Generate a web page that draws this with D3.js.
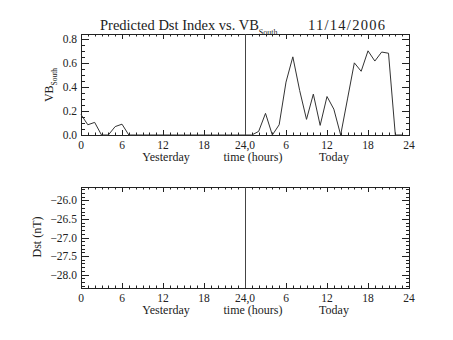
<!DOCTYPE html>
<html><head><meta charset="utf-8">
<script src="https://cdn.jsdelivr.net/npm/d3@7"></script>
<style>
html,body{margin:0;padding:0;background:#fff;}
svg text{font-family:"Liberation Serif","DejaVu Serif",serif;fill:#222;}
</style>
</head><body>
<svg id="chart" width="453" height="340"></svg>
<script>
// ---- data ----
const hours = d3.range(0, 48); // 0..23 yesterday, 24..47 today
const vbSouth = [
  0.17, 0.085, 0.105, 0.0, 0.0, 0.07, 0.09, 0.0, 0.0, 0.0, 0.0, 0.0,
  0.0, 0.0, 0.0, 0.0, 0.0, 0.0, 0.0, 0.0, 0.0, 0.0, 0.0, 0.0,
  0.0, 0.0, 0.03, 0.18, 0.0, 0.085, 0.44, 0.65, 0.37, 0.13, 0.34, 0.08,
  0.32, 0.215, 0.0, 0.30, 0.60, 0.53, 0.70, 0.615, 0.69, 0.68, 0.0, 0.0
];
const xTickValues = [0, 6, 12, 18, 24, 30, 36, 42, 48];
const xTickLabels = ["0", "6", "12", "18", "24,0", "6", "12", "18", "24"];
const vbTicks = [0.0, 0.2, 0.4, 0.6, 0.8];
const dstTicks = [-26.0, -26.5, -27.0, -27.5, -28.0];
const titleMain = "Predicted Dst Index vs. VB";
const titleSub = "South";
const titleDate = "11/14/2006";
const dayLabels = ["Yesterday", "time (hours)", "Today"];

// ---- layout ----
const svg = d3.select("#chart");
const X0 = 81, X1 = 409;
const x = d3.scaleLinear().domain([0, 48]).range([X0, X1]);
const stroke = "#222";

function panel(top, bottom, yDomain, majorTicks, minorStep, fmt) {
  const y = d3.scaleLinear().domain(yDomain).range([bottom, top]);
  const g = svg.append("g");
  const majLen = 5, minLen = 2.5;
  g.append("rect").attr("x", X0 + 0.5).attr("y", top + 0.5)
    .attr("width", X1 - X0).attr("height", bottom - top)
    .attr("fill", "none").attr("stroke", stroke).attr("stroke-width", 1);
  d3.range(0, 49).forEach(h => {
    const len = (h % 6 === 0) ? majLen : minLen;
    const px = Math.round(x(h)) + 0.5;
    g.append("line").attr("x1", px).attr("x2", px)
      .attr("y1", bottom).attr("y2", bottom - len).attr("stroke", stroke);
    g.append("line").attr("x1", px).attr("x2", px)
      .attr("y1", top).attr("y2", top + len).attr("stroke", stroke);
  });
  const lo = Math.min(...yDomain), hi = Math.max(...yDomain);
  const minors = d3.range(Math.ceil(lo / minorStep - 1e-6), Math.floor(hi / minorStep + 1e-6) + 1)
    .map(k => k * minorStep);
  minors.forEach(v => {
    const isMaj = majorTicks.some(m => Math.abs(m - v) < 1e-6);
    const len = isMaj ? majLen * 1.6 : minLen * 1.6;
    const py = Math.round(y(v)) + 0.5;
    g.append("line").attr("x1", X0).attr("x2", X0 + len)
      .attr("y1", py).attr("y2", py).attr("stroke", stroke);
    g.append("line").attr("x1", X1 + 1).attr("x2", X1 + 1 - len)
      .attr("y1", py).attr("y2", py).attr("stroke", stroke);
  });
  majorTicks.forEach(v => {
    g.append("text").attr("x", 77).attr("y", y(v)).attr("dy", "0.35em")
      .attr("text-anchor", "end").attr("font-size", 11.5)
      .text(fmt(v));
  });
  xTickValues.forEach((v, i) => {
    g.append("text").attr("x", x(v)).attr("y", bottom + 10).attr("dy", "0.35em")
      .attr("text-anchor", "middle").attr("font-size", 11.5)
      .text(xTickLabels[i]);
  });
  const dayX = [166, 253, 334];
  dayLabels.forEach((t, i) => {
    g.append("text").attr("x", dayX[i]).attr("y", bottom + 22).attr("dy", "0.35em")
      .attr("text-anchor", "middle").attr("font-size", 12).text(t);
  });
  g.append("line").attr("x1", Math.round(x(24)) + 0.5).attr("x2", Math.round(x(24)) + 0.5)
    .attr("y1", top).attr("y2", bottom).attr("stroke", "#444");
  return {g, y};
}

// top panel
const p1 = panel(34, 135, [0, 0.84], vbTicks, 0.05, d => d3.format(".1f")(d));
const line = d3.line().x((d, i) => x(hours[i])).y(d => p1.y(d));
p1.g.append("path").datum(vbSouth).attr("d", line)
  .attr("fill", "none").attr("stroke", "#333").attr("stroke-width", 1);

const yl = p1.g.append("text").attr("transform", "translate(53,85) rotate(-90)")
  .attr("text-anchor", "middle").attr("font-size", 12);
yl.append("tspan").text("VB");
yl.append("tspan").attr("font-size", 7.5).attr("dy", 4).text("South");

// bottom panel
const p2 = panel(187, 288, [-28.36, -25.64], dstTicks, 0.1, d => "\u2212" + d3.format(".1f")(-d));
p2.g.append("text").attr("transform", "translate(41,237) rotate(-90)")
  .attr("text-anchor", "middle").attr("font-size", 12).text("Dst (nT)");

// title
const t = svg.append("text").attr("x", 100).attr("y", 30).attr("font-size", 14.5);
t.append("tspan").text(titleMain);
t.append("tspan").attr("font-size", 8).attr("dy", 5).text(titleSub);
svg.append("text").attr("x", 308).attr("y", 30)
  .attr("textLength", 77).attr("lengthAdjust", "spacing")
  .attr("font-size", 14.5).text(titleDate);
</script>
</body></html>
